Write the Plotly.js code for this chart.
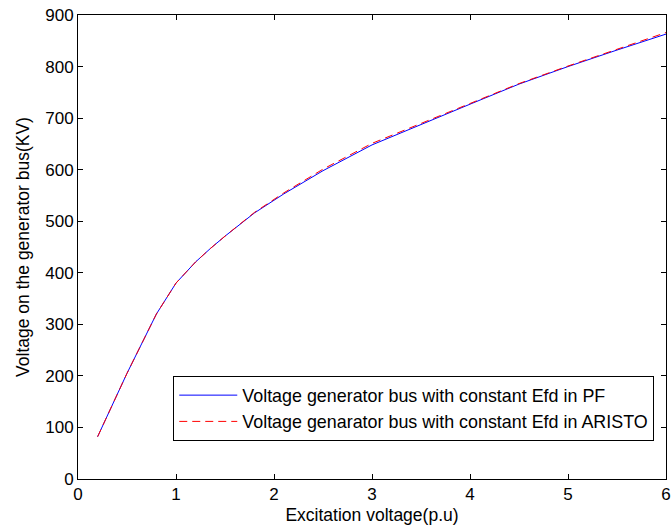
<!DOCTYPE html>
<html>
<head>
<meta charset="utf-8">
<script src="https://cdn.plot.ly/plotly-3.0.1.min.js"></script>
<style>html,body{margin:0;padding:0;background:#fff;}#chart{width:672px;height:528px;}</style>
</head>
<body>
<div id="chart"></div>
<script>
const excitation = [0.2, 0.5, 0.8, 1.0, 1.2, 1.35, 1.5, 1.65, 1.8, 2.1, 2.5, 3.0, 3.5, 4.0, 4.5, 5.0, 5.5, 6.0];
const voltagePF = [82, 205, 320, 380, 421, 447, 471, 494, 516, 553, 598, 648, 688, 727, 766, 800, 832, 863];
const voltageARISTO = [82, 205, 320, 380, 421, 447, 471, 494, 517, 555, 601, 651, 690, 728, 767, 801, 834, 866];
const namePF = "Voltage generator bus with constant Efd in PF";
const nameARISTO = "Voltage genarator bus with constant Efd in ARISTO";

const font = {family: "Liberation Sans, Arial, sans-serif", size: 17.5, color: "#000"};
const legendFont = {family: "Liberation Sans, Arial, sans-serif", size: 17.9, color: "#000"};
const tickFont = {family: "Liberation Sans, Arial, sans-serif", size: 17, color: "#000"};
const traces = [
  {x: excitation, y: voltagePF, type: "scatter", mode: "lines", name: namePF,
   line: {color: "#0000ff", width: 1}},
  {x: excitation, y: voltageARISTO, type: "scatter", mode: "lines", name: nameARISTO,
   line: {color: "#ff0000", width: 1, dash: "8px,5px"}}
];
const axisCommon = {
  showgrid: false, zeroline: false, showline: true, linecolor: "#000", linewidth: 1,
  mirror: "ticks", ticks: "inside", ticklen: 5, tickcolor: "#000", tickfont: tickFont
};
const layout = {
  width: 672, height: 528,
  margin: {l: 78, r: 6, t: 15, b: 49},
  paper_bgcolor: "#fff", plot_bgcolor: "#fff",
  font: font,
  xaxis: Object.assign({}, axisCommon, {range: [0, 6], dtick: 1,
    title: {text: "Excitation voltage(p.u)", font: font, standoff: 5}}),
  yaxis: Object.assign({}, axisCommon, {range: [0, 900], dtick: 100,
    title: {text: "Voltage on the generator bus(KV)", font: font, standoff: 11}}),
  showlegend: true,
  legend: {x: 0.162, y: 0.222, xanchor: "left", yanchor: "top",
    bgcolor: "#fff", bordercolor: "#000", borderwidth: 1, font: legendFont,
    tracegroupgap: 0, itemwidth: 58}
};
Plotly.newPlot("chart", traces, layout, {displayModeBar: false, staticPlot: true});
</script>
</body>
</html>
